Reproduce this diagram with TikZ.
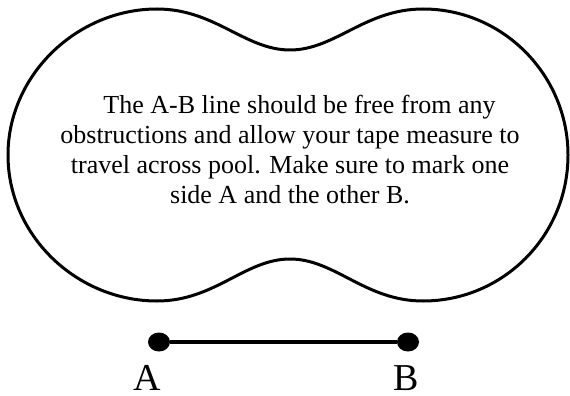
\documentclass[tikz,border=0pt]{standalone}
\usepackage{fontspec}
\setmainfont{Liberation Serif}
\usetikzlibrary{shapes.geometric}

\begin{document}
\begin{tikzpicture}[
    x=1pt, y=-1pt,
    pool/.style={draw, line width=3pt, line join=round},
    note/.style={align=center, inner sep=0pt,
      font=\rmfamily\fontsize{26}{30}\selectfont},
    marker/.style={ellipse, fill, inner sep=0pt,
      minimum width=22pt, minimum height=19pt},
    tape/.style={line width=4.6pt},
    letter/.style={anchor=base, inner sep=0pt,
      font=\rmfamily\fontsize{38}{38}\selectfont}
  ]
  \useasboundingbox (0,0) rectangle (570,396);

  % pool outline
  \draw[pool] (290,50) .. controls (335,50) and (365,9) .. (423,9)
    .. controls (503,9) and (568,75) .. (568,155)
    .. controls (568,236) and (503,301) .. (423,301)
    .. controls (365,301) and (335,259) .. (290,259)
    .. controls (245,259) and (215,301) .. (157,301)
    .. controls (77,301) and (8,236) .. (8,155)
    .. controls (8,75) and (77,9) .. (157,9)
    .. controls (215,9) and (245,50) .. cycle;

  \node[note] (text) at (290,150)
    {\hspace*{19pt}The A-B line should be free from any\\
     obstructions and allow your tape measure to\\
     travel across pool. Make sure to mark one\\
     side A and the other B.};

  \node[marker] (A) at (159,342) {};
  \node[marker] (B) at (408,342) {};
  \draw[tape] (A) -- (B);

  \node[letter] (labA) at (147,390) {A};
  \node[letter] (labB) at (406,390) {B};
\end{tikzpicture}
\end{document}
